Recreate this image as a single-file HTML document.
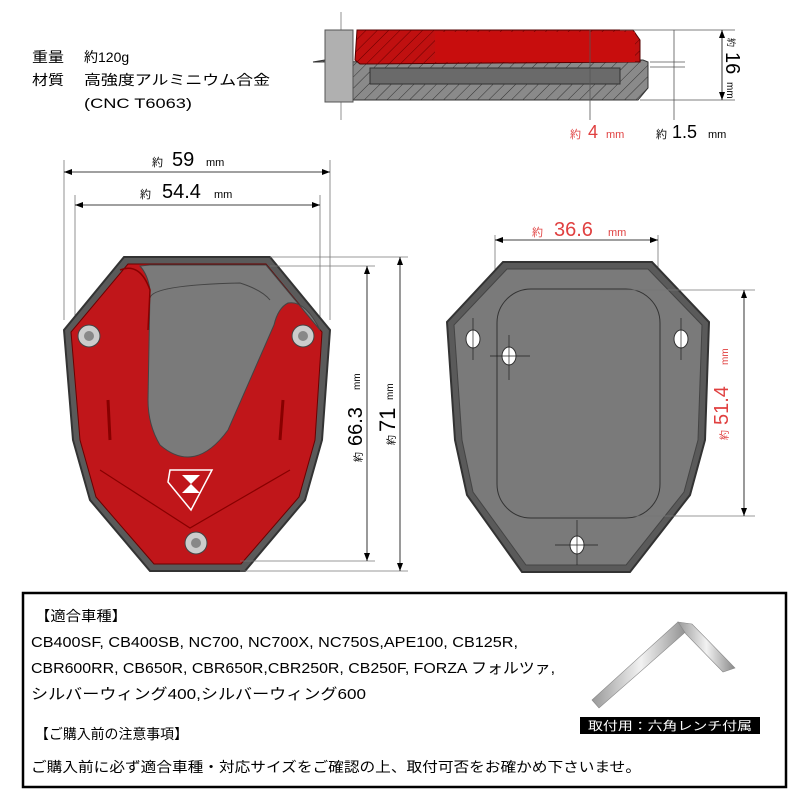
<!DOCTYPE html>
<html><head><meta charset="utf-8"><style>
html,body{margin:0;padding:0;background:#fff;}
svg{display:block}
text{font-family:"Liberation Sans","Noto Sans CJK JP",sans-serif;}
</style></head><body>
<svg width="800" height="800" viewBox="0 0 800 800" xmlns="http://www.w3.org/2000/svg">
<defs>
<pattern id="hatch" width="8" height="8" patternUnits="userSpaceOnUse" patternTransform="rotate(45)">
<rect width="8" height="8" fill="#8a8a8a"/><line x1="0" y1="0" x2="0" y2="8" stroke="#333" stroke-width="1"/></pattern>
<pattern id="hatchr" width="8" height="8" patternUnits="userSpaceOnUse" patternTransform="rotate(45)">
<rect width="8" height="8" fill="#c01010"/><line x1="0" y1="0" x2="0" y2="8" stroke="#600" stroke-width="1"/></pattern>
<linearGradient id="wr" x1="0" y1="0" x2="1" y2="0"><stop offset="0" stop-color="#999"/><stop offset=".5" stop-color="#f2f2f2"/><stop offset="1" stop-color="#888"/></linearGradient>
</defs>

<!-- top-left specs -->
<text x="32" y="62" font-size="14" textLength="32" lengthAdjust="spacingAndGlyphs">重量</text>
<text x="84" y="62" font-size="14">約120g</text>
<text x="32" y="85" font-size="14" textLength="32" lengthAdjust="spacingAndGlyphs">材質</text>
<text x="84" y="85" font-size="14" textLength="186" lengthAdjust="spacingAndGlyphs">高強度アルミニウム合金</text>
<text x="84" y="108" font-size="14" textLength="108" lengthAdjust="spacingAndGlyphs">(CNC T6063)</text>

<!-- section view -->
<line x1="341" y1="12" x2="341" y2="120" stroke="#777" stroke-width="0.8"/>
<path d="M313 62 L325 60 L325 90 L332 100 L638 100 L648 88 L648 62 L643 60 Z" fill="url(#hatch)" stroke="#333"/>
<path d="M357 30 L633 30 L640 40 L640 62 L360 64 L355 60 Z" fill="url(#hatchr)" stroke="#500"/>
<rect x="435" y="32" width="200" height="30" fill="#c80d0d"/>
<rect x="370" y="68" width="250" height="16" fill="#6a6a6a" stroke="#333"/>
<rect x="325" y="30" width="28" height="72" fill="#b0b0b0" stroke="#555"/>
<line x1="590" y1="30" x2="590" y2="120" stroke="#555" stroke-width="0.8"/>
<line x1="620" y1="30" x2="735" y2="30" stroke="#555" stroke-width="0.8"/>
<line x1="640" y1="100" x2="735" y2="100" stroke="#555" stroke-width="0.8"/>
<line x1="650" y1="62" x2="685" y2="62" stroke="#555" stroke-width="0.8"/>
<line x1="650" y1="67" x2="685" y2="67" stroke="#555" stroke-width="0.8"/>
<line x1="674" y1="30" x2="674" y2="120" stroke="#555" stroke-width="0.8"/>
<line x1="722" y1="30" x2="722" y2="100" stroke="#000" stroke-width="0.8"/>
<path d="M722 30 l-3 8 h6z M722 100 l-3 -8 h6z" fill="#000"/>
<text transform="translate(728,38) rotate(90)" font-size="9">約</text>
<text transform="translate(726,52) rotate(90)" font-size="20">16</text>
<text transform="translate(727,82) rotate(90)" font-size="10">mm</text>
<text x="570" y="138" font-size="11" fill="#e04040">約</text>
<text x="588" y="138" font-size="18" fill="#e04040">4</text>
<text x="606" y="138" font-size="11" fill="#e04040">mm</text>
<text x="656" y="138" font-size="11">約</text>
<text x="672" y="138" font-size="18">1.5</text>
<text x="708" y="138" font-size="11">mm</text>

<!-- left plate dims -->
<line x1="64" y1="160" x2="64" y2="320" stroke="#777" stroke-width="0.8"/>
<line x1="330" y1="160" x2="330" y2="320" stroke="#777" stroke-width="0.8"/>
<line x1="75" y1="195" x2="75" y2="320" stroke="#777" stroke-width="0.8"/>
<line x1="320" y1="195" x2="320" y2="320" stroke="#777" stroke-width="0.8"/>
<line x1="64" y1="172" x2="330" y2="172" stroke="#000" stroke-width="0.8"/>
<path d="M64 172 l8 -3 v6z M330 172 l-8 -3 v6z" fill="#000"/>
<line x1="75" y1="205" x2="320" y2="205" stroke="#000" stroke-width="0.8"/>
<path d="M75 205 l8 -3 v6z M320 205 l-8 -3 v6z" fill="#000"/>
<text x="152" y="166" font-size="11">約</text>
<text x="172" y="166" font-size="20">59</text>
<text x="206" y="166" font-size="11">mm</text>
<text x="140" y="198" font-size="11">約</text>
<text x="162" y="198" font-size="20">54.4</text>
<text x="214" y="198" font-size="11">mm</text>

<!-- left plate -->
<path d="M124 257 L270 257 L330 330 L322 440 L305 500 L245 571 L150 571 L90 500 L73 440 L64 330 Z" fill="#5a5a5a" stroke="#333" stroke-width="2"/>
<path d="M128 264 L266 264 L322 332 L315 440 L299 497 L241 564 L154 564 L96 497 L80 440 L71 332 Z" fill="#c0161a" stroke="#6a0000"/>
<path d="M150 265 L266 265 L320 330 Q305 300 288 303 Q278 308 274 325 L228 430 Q195 475 160 445 Q148 425 148 400 L150 290 Q148 275 140 266 Z" fill="#7a7a7a" stroke="#444"/>
<path d="M150 298 Q152 285 240 283 Q262 290 270 300" fill="none" stroke="#444"/>
<path d="M120 270 Q140 262 150 290 L148 330" fill="none" stroke="#800" stroke-width="1.5"/>
<path d="M110 440 L108 400 M280 440 L283 400" stroke="#800" stroke-width="3"/>
<path d="M100 470 L190 528 L290 470" fill="none" stroke="#800" stroke-width="1.2"/>
<path d="M170 470 L212 470 L191 510 L168 482 Z" fill="none" stroke="#fff" stroke-width="1.5"/>
<path d="M182 475 h18 l-9 9 l9 9 h-18 l9 -9z" fill="#fff"/>
<circle cx="89" cy="336" r="11" fill="#ccc" stroke="#444"/><circle cx="89" cy="336" r="5" fill="#888"/>
<circle cx="303" cy="336" r="11" fill="#ccc" stroke="#444"/><circle cx="303" cy="336" r="5" fill="#888"/>
<circle cx="196" cy="543" r="11" fill="#ccc" stroke="#444"/><circle cx="196" cy="543" r="5" fill="#888"/>
<line x1="270" y1="257" x2="408" y2="257" stroke="#777" stroke-width="0.8"/>
<line x1="270" y1="266" x2="375" y2="266" stroke="#777" stroke-width="0.8"/>
<line x1="240" y1="561" x2="375" y2="561" stroke="#777" stroke-width="0.8"/>
<line x1="240" y1="571" x2="408" y2="571" stroke="#777" stroke-width="0.8"/>
<line x1="367" y1="266" x2="367" y2="561" stroke="#000" stroke-width="0.8"/>
<path d="M367 266 l-3 8 h6z M367 561 l-3 -8 h6z" fill="#000"/>
<line x1="400" y1="257" x2="400" y2="571" stroke="#000" stroke-width="0.8"/>
<path d="M400 257 l-3 8 h6z M400 571 l-3 -8 h6z" fill="#000"/>
<text transform="translate(362,462) rotate(-90)" font-size="10">約</text>
<text transform="translate(362,446) rotate(-90)" font-size="20">66.3</text>
<text transform="translate(360,390) rotate(-90)" font-size="10">mm</text>
<text transform="translate(395,445) rotate(-90)" font-size="10">約</text>
<text transform="translate(395,432) rotate(-90)" font-size="22">71</text>
<text transform="translate(393,400) rotate(-90)" font-size="10">mm</text>

<!-- right plate -->
<line x1="495" y1="235" x2="495" y2="330" stroke="#777" stroke-width="0.8"/>
<line x1="658" y1="235" x2="658" y2="330" stroke="#777" stroke-width="0.8"/>
<line x1="495" y1="240" x2="658" y2="240" stroke="#000" stroke-width="0.8"/>
<path d="M495 240 l8 -3 v6z M658 240 l-8 -3 v6z" fill="#000"/>
<text x="532" y="236" font-size="11" fill="#e04040">約</text>
<text x="554" y="236" font-size="20" fill="#e04040">36.6</text>
<text x="608" y="236" font-size="11" fill="#e04040">mm</text>
<path d="M503 262 L652 262 L709 322 L705 440 L690 495 L630 572 L522 572 L467 495 L455 440 L447 322 Z" fill="#5a5a5a" stroke="#333" stroke-width="2"/>
<path d="M507 269 L648 269 L702 325 L698 440 L684 492 L626 565 L526 565 L473 492 L462 440 L454 325 Z" fill="#7a7a7a" stroke="#444"/>
<rect x="497" y="289" width="163" height="229" rx="34" fill="#7a7a7a" stroke="#333"/>
<line x1="600" y1="290" x2="755" y2="290" stroke="#777" stroke-width="0.8"/>
<line x1="560" y1="516" x2="755" y2="516" stroke="#777" stroke-width="0.8"/>
<line x1="744" y1="290" x2="744" y2="516" stroke="#000" stroke-width="0.8"/>
<path d="M744 290 l-3 8 h6z M744 516 l-3 -8 h6z" fill="#000"/>
<text transform="translate(728,440) rotate(-90)" font-size="10" fill="#e04040">約</text>
<text transform="translate(728,425) rotate(-90)" font-size="20" fill="#e04040">51.4</text>
<text transform="translate(728,365) rotate(-90)" font-size="10" fill="#e04040">mm</text>
<g fill="#fff" stroke="#333">
<ellipse cx="473" cy="339" rx="7" ry="9"/><ellipse cx="681" cy="339" rx="7" ry="9"/>
<ellipse cx="509" cy="356" rx="7" ry="9"/><ellipse cx="577" cy="545" rx="7" ry="9"/></g>
<g stroke="#222" stroke-width="0.7">
<line x1="490" y1="356" x2="530" y2="356"/><line x1="509" y1="335" x2="509" y2="380"/>
<line x1="555" y1="545" x2="598" y2="545"/><line x1="577" y1="520" x2="577" y2="565"/>
<line x1="473" y1="318" x2="473" y2="360"/><line x1="681" y1="318" x2="681" y2="360"/></g>

<!-- bottom box -->
<rect x="23" y="593" width="763" height="194" fill="#fff" stroke="#000" stroke-width="2.5"/>
<text x="35" y="621" font-size="14" textLength="92" lengthAdjust="spacingAndGlyphs">【適合車種】</text>
<text x="31" y="647" font-size="15" textLength="487" lengthAdjust="spacingAndGlyphs">CB400SF, CB400SB, NC700, NC700X, NC750S,APE100, CB125R,</text>
<text x="31" y="673" font-size="15" textLength="524" lengthAdjust="spacingAndGlyphs">CBR600RR, CB650R, CBR650R,CBR250R, CB250F, FORZA フォルツァ,</text>
<text x="31" y="699" font-size="15" textLength="335" lengthAdjust="spacingAndGlyphs">シルバーウィング400,シルバーウィング600</text>
<text x="35" y="739" font-size="14" textLength="153" lengthAdjust="spacingAndGlyphs">【ご購入前の注意事項】</text>
<text x="31" y="772" font-size="14" textLength="610" lengthAdjust="spacingAndGlyphs">ご購入前に必ず適合車種・対応サイズをご確認の上、取付可否をお確かめ下さいませ。</text>
<path d="M592 700 L678 622 L690 628 L599 708 Z" fill="url(#wr)" stroke="#888" stroke-width="0.6"/>
<path d="M678 622 L692 624 L735 668 L723 672 L686 634 Z" fill="url(#wr)" stroke="#888" stroke-width="0.6"/>
<rect x="580" y="717" width="180" height="17" fill="#000"/>
<text x="588" y="730" font-size="12" fill="#fff" textLength="164" lengthAdjust="spacingAndGlyphs">取付用：六角レンチ付属</text>
</svg>
</body></html>
